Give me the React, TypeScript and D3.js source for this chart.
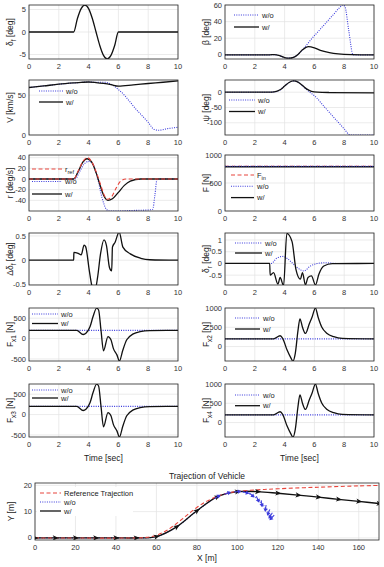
import { useRef, useEffect } from "react";
import * as d3 from "d3";

const FONT = "'Liberation Sans', Arial, Helvetica, sans-serif";

// shared time axis
const timeTicks = [0, 2, 4, 6, 8, 10];

// steering input
const steerT = [0, 3, 3.25, 3.5, 3.75, 4, 4.25, 4.5, 4.75, 5, 5.25, 5.5, 5.75, 6, 10];
const steerDeg = [0, 0, 3, 5.2, 6, 5.2, 3, 0, -3, -5.2, -6, -5.2, -3, 0, 0];

// side slip
const betaT = [0, 3, 3.3, 3.7, 4.0, 4.3, 4.6, 4.9, 5.2, 5.6, 6.0, 6.4, 7.0, 7.6, 8.5, 10];
const betaW = [0, 0, 0.3, -1.2, -3.2, -4, -3, 0.5, 6, 10, 8.5, 5.5, 2.8, 1.2, 0.3, 0];
const betaWoT = [0, 3, 3.3, 3.7, 4.0, 4.3, 4.6, 4.9, 5.3, 5.8, 6.3, 6.8, 7.3, 7.7, 7.9, 8.05, 8.3, 8.6, 10];
const betaWo = [0, 0, 0.3, -1.2, -3.2, -4, -3, 0.5, 8, 19, 29, 39, 49, 57, 60, 58, 30, 0, 0];

// speed
const speedT = [0, 1, 2, 3, 3.5, 4, 4.5, 5, 5.5, 6, 7, 8, 9, 10];
const speedW = [59.6, 61.6, 63.7, 65.3, 66, 66.5, 65.8, 64.7, 63.2, 61.3, 62.9, 64.6, 66.2, 67.9];
const speedWoT = [0, 1, 2, 3, 3.5, 4, 4.5, 5, 5.5, 6, 6.4, 6.8, 7.2, 7.6, 8.0, 8.4, 8.7, 9.3, 10];
const speedWo = [59.6, 61.6, 63.7, 65.3, 66, 66.5, 66, 66.2, 63.8, 57, 50, 41, 32, 24, 16, 7, 6, 8, 9.6];

// yaw angle
const psiT = [0, 3, 3.3, 3.7, 4.0, 4.3, 4.6, 4.9, 5.2, 5.5, 5.8, 6.2, 7, 10];
const psiW = [0, 0, 1, 8, 20, 32, 37, 33, 22, 10, 3, 0, -1, -2];
const psiWoT = [0, 3, 3.3, 3.7, 4.0, 4.3, 4.6, 4.9, 5.2, 5.5, 5.8, 6.1, 6.5, 7.0, 7.5, 8.0, 8.4, 10];
const psiWo = [0, 0, 1, 8, 20, 32, 37, 33, 21, 8, -4, -16, -38, -66, -93, -120, -140, -140];

// yaw rate
const rRefT = [0, 3, 3.3, 3.6, 3.9, 4.2, 4.5, 4.8, 5.0, 5.25, 5.55, 5.85, 6.15, 6.5, 10];
const rRef = [0, 0, 15, 32, 40, 33, 14, -10, -27, -38, -33, -17, -4, 0, 0];
const rWT = [0, 3, 3.3, 3.6, 3.9, 4.2, 4.5, 4.8, 5.0, 5.3, 5.6, 6.0, 6.4, 6.8, 7.5, 10];
const rW = [0, 0, 14, 31, 38, 32, 12, -14, -30, -40, -37, -25, -12, -4, 0, 0];
const rWoT = [0, 3.1, 3.4, 3.7, 4.0, 4.3, 4.6, 4.9, 5.2, 5.4, 6.0, 7.0, 8.0, 8.3, 8.45, 8.6, 10];
const rWo = [0, 0, 14, 28, 33, 27, 2, -35, -57, -60, -60, -59, -58, -57, -30, 0, 0];

// drive force
const forceT = [0, 10];
const forceIn = [800, 800];
const forceWo = [800, 800];
const forceW = [790, 790];

// front steering correction
const dDeltaT = [0, 3.0, 3.01, 3.3, 3.5, 3.7, 3.8, 4.05, 4.2, 4.4, 4.6, 4.8, 5.03, 5.2, 5.4, 5.55, 5.6, 5.78, 6.05, 6.3, 6.8, 7.5, 8.1, 10];
const dDeltaW = [0, 0, 0.16, 0.14, 0.11, 0.31, 0.28, -0.22, -0.5, -0.65, -0.36, 0.13, 0.42, 0.3, -0.15, -0.22, 0.27, 0.37, 0.58, 0.27, 0.13, 0.04, 0.01, 0];

// rear steering
const deltaRT = [0, 3.0, 3.03, 3.26, 3.55, 3.7, 3.93, 4.15, 4.5, 4.76, 5.06, 5.2, 5.4, 5.57, 5.8, 6.07, 6.3, 6.63, 7.2, 10];
const deltaRW = [0, 0, -0.5, -0.39, -0.88, -0.6, -0.95, 1.28, 0.93, -0.25, -0.67, -0.39, -0.92, -0.6, -0.53, -0.92, -0.46, -0.11, -0.01, 0];
const deltaRWoT = [0, 3.1, 3.5, 3.9, 4.2, 4.5, 4.85, 5.3, 5.7, 6.2, 6.7, 7.5, 10];
const deltaRWo = [0, 0, 0.24, 0.3, 0.2, 0.03, -0.18, -0.32, -0.12, 0, 0.03, 0, 0];

// wheel longitudinal forces
const fx13T = [0, 3.2, 3.64, 3.82, 4.1, 4.3, 4.54, 4.67, 4.83, 5.0, 5.3, 5.5, 5.66, 5.9, 6.07, 6.3, 6.56, 7.0, 7.46, 8.1, 10];
const fx13W = [200, 200, 100, 130, 295, 540, 745, 700, 213, -300, 50, -30, -240, -400, -550, -280, -30, 115, 170, 195, 200];
const fx24T = [0, 3.26, 3.7, 3.87, 4.16, 4.43, 4.56, 4.72, 4.9, 5.03, 5.2, 5.4, 5.66, 5.84, 6.07, 6.25, 6.5, 6.85, 7.3, 7.87, 10];
const fx24W = [200, 200, 280, 212, -85, -300, -380, -170, 420, 720, 500, 340, 590, 760, 1000, 760, 500, 340, 255, 212, 200];
const fxWoT = [0, 10];
const fxWo = [200, 200];

// trajectories
const trajTicksX = [0, 20, 40, 60, 80, 100, 120, 140, 160];
const trajTicksY = [0, 10, 20];
const refX = [0, 50, 55, 60, 65, 70, 75, 80, 85, 90, 95, 100, 110, 120, 140, 160, 171];
const refY = [0, 0, 0.2, 1, 2.8, 5.5, 8.6, 11.6, 14, 15.8, 17, 17.7, 18.3, 18.7, 19.3, 19.8, 20];
const pathWX = [0, 10, 20, 30, 40, 50, 60, 70, 80, 90, 100, 110, 120, 130, 140, 150, 160, 170];
const pathWY = [0, 0, 0, 0, 0, 0, 0.5, 4.2, 10.3, 15.6, 17.6, 17.6, 17, 16.3, 15.5, 14.7, 13.9, 13.1];
const pathWoX = [0, 10, 20, 30, 40, 50, 60, 70, 80, 90, 95, 100, 104, 107, 110, 112, 114, 115.5, 116.5, 117.2];
const pathWoY = [0, 0, 0, 0, 0, 0, 0.5, 4.2, 10.3, 15.6, 17, 17.6, 17.3, 16.4, 14.8, 13.2, 11.4, 9.8, 8.6, 7.8];
const headingWo = [0, 0, 0, 0, 0, 0, 8, 30, 35, 25, 15, 5, -12, -35, -60, -80, -100, -118, -130, -140];

type Part = { s: string; sub?: boolean };
type Kind = "ref" | "wo" | "w";
type Series = { t: number[]; v: number[]; kind: Kind };
type Legend = { x: number; y: number; len: number; gap: number; items: { kind: Kind; label: Part[] }[] };
type Panel = {
  col: number;
  row: number;
  yDomain: [number, number];
  yTicks: number[];
  label: Part[];
  series: Series[];
  legend?: Legend;
};

const STYLE: Record<Kind, { stroke: string; dash: string | null; width: number }> = {
  ref: { stroke: "#e8453c", dash: "4,2.5", width: 1.1 },
  wo: { stroke: "#3b3bdc", dash: "1,1.3", width: 1.1 },
  w: { stroke: "#111", dash: null, width: 1.3 },
};

const COLS = [
  [29, 178],
  [225, 374],
];
const ROWS = [
  [5, 59],
  [80, 135],
  [155, 211],
  [233, 285],
  [308, 361],
  [384, 437],
];

const WO: Part[] = [{ s: "w/o" }];
const W: Part[] = [{ s: "w/" }];

function addParts(sel: d3.Selection<SVGTextElement, unknown, null, undefined>, parts: Part[], size: number) {
  let shifted = false;
  parts.forEach((pt) => {
    const ts = sel.append("tspan").text(pt.s);
    if (pt.sub) {
      ts.attr("dy", shifted ? 0 : size * 0.3).attr("font-size", size * 0.75);
      shifted = true;
    } else if (shifted) {
      ts.attr("dy", -size * 0.3);
      shifted = false;
    }
  });
}

export default function App() {
  const ref = useRef<SVGSVGElement>(null);

  useEffect(() => {
    if (!ref.current) return;
    const svg = d3.select(ref.current);
    svg.selectAll("*").remove();

    const panels: Panel[] = [
      {
        col: 0, row: 0, yDomain: [-6, 6], yTicks: [-5, 0, 5],
        label: [{ s: "δ" }, { s: "f", sub: true }, { s: " [deg]" }],
        series: [{ t: steerT, v: steerDeg, kind: "w" }],
      },
      {
        col: 1, row: 0, yDomain: [-5, 60], yTicks: [0, 20, 40, 60],
        label: [{ s: "β [deg]" }],
        series: [
          { t: betaWoT, v: betaWo, kind: "wo" },
          { t: betaT, v: betaW, kind: "w" },
        ],
        legend: { x: 234, y: 15, len: 25, gap: 12, items: [{ kind: "wo", label: WO }, { kind: "w", label: W }] },
      },
      {
        col: 0, row: 1, yDomain: [0, 69], yTicks: [0, 50],
        label: [{ s: "V [km/s]" }],
        series: [
          { t: speedWoT, v: speedWo, kind: "wo" },
          { t: speedT, v: speedW, kind: "w" },
        ],
        legend: { x: 39, y: 91, len: 24, gap: 11, items: [{ kind: "wo", label: WO }, { kind: "w", label: W }] },
      },
      {
        col: 1, row: 1, yDomain: [-140, 40], yTicks: [-100, -50, 0],
        label: [{ s: "ψ [deg]" }],
        series: [
          { t: psiWoT, v: psiWo, kind: "wo" },
          { t: psiT, v: psiW, kind: "w" },
        ],
        legend: { x: 229, y: 100, len: 26, gap: 11.5, items: [{ kind: "wo", label: WO }, { kind: "w", label: W }] },
      },
      {
        col: 0, row: 2, yDomain: [-60, 45], yTicks: [-40, -20, 0, 20, 40],
        label: [{ s: "r [deg/s]" }],
        series: [
          { t: rWoT, v: rWo, kind: "wo" },
          { t: rWT, v: rW, kind: "w" },
          { t: rRefT, v: rRef, kind: "ref" },
        ],
        legend: {
          x: 32, y: 169, len: 30, gap: 12.5,
          items: [
            { kind: "ref", label: [{ s: "r" }, { s: "ref", sub: true }] },
            { kind: "wo", label: WO },
            { kind: "w", label: W },
          ],
        },
      },
      {
        col: 1, row: 2, yDomain: [0, 1000], yTicks: [0, 500, 1000],
        label: [{ s: "F [N]" }],
        series: [
          { t: forceT, v: forceIn, kind: "ref" },
          { t: forceT, v: forceW, kind: "w" },
          { t: forceT, v: forceWo, kind: "wo" },
        ],
        legend: {
          x: 231, y: 175, len: 23, gap: 11.3,
          items: [
            { kind: "ref", label: [{ s: "F" }, { s: "in", sub: true }] },
            { kind: "wo", label: WO },
            { kind: "w", label: W },
          ],
        },
      },
      {
        col: 0, row: 3, yDomain: [-0.51, 0.56], yTicks: [-0.5, 0, 0.5],
        label: [{ s: "Δδ" }, { s: "f", sub: true }, { s: " [deg]" }],
        series: [{ t: dDeltaT, v: dDeltaW, kind: "w" }],
      },
      {
        col: 1, row: 3, yDomain: [-0.92, 1.3], yTicks: [-0.5, 0, 0.5, 1],
        label: [{ s: "δ" }, { s: "r", sub: true }, { s: " [deg]" }],
        series: [
          { t: deltaRWoT, v: deltaRWo, kind: "wo" },
          { t: deltaRT, v: deltaRW, kind: "w" },
        ],
        legend: { x: 235, y: 243, len: 27, gap: 10, items: [{ kind: "wo", label: WO }, { kind: "w", label: W }] },
      },
      {
        col: 0, row: 4, yDomain: [-550, 750], yTicks: [-500, 0, 500],
        label: [{ s: "F" }, { s: "x1", sub: true }, { s: " [N]" }],
        series: [
          { t: fxWoT, v: fxWo, kind: "wo" },
          { t: fx13T, v: fx13W, kind: "w" },
        ],
        legend: { x: 32, y: 314, len: 26, gap: 9.5, items: [{ kind: "wo", label: WO }, { kind: "w", label: W }] },
      },
      {
        col: 1, row: 4, yDomain: [-375, 1000], yTicks: [0, 500, 1000],
        label: [{ s: "F" }, { s: "x2", sub: true }, { s: " [N]" }],
        series: [
          { t: fxWoT, v: fxWo, kind: "wo" },
          { t: fx24T, v: fx24W, kind: "w" },
        ],
        legend: { x: 235, y: 318, len: 25, gap: 11, items: [{ kind: "wo", label: WO }, { kind: "w", label: W }] },
      },
      {
        col: 0, row: 5, yDomain: [-550, 750], yTicks: [-500, 0, 500],
        label: [{ s: "F" }, { s: "x3", sub: true }, { s: " [N]" }],
        series: [
          { t: fxWoT, v: fxWo, kind: "wo" },
          { t: fx13T, v: fx13W, kind: "w" },
        ],
        legend: { x: 32, y: 390, len: 26, gap: 8, items: [{ kind: "wo", label: WO }, { kind: "w", label: W }] },
      },
      {
        col: 1, row: 5, yDomain: [-375, 1000], yTicks: [0, 500, 1000],
        label: [{ s: "F" }, { s: "x4", sub: true }, { s: " [N]" }],
        series: [
          { t: fxWoT, v: fxWo, kind: "wo" },
          { t: fx24T, v: fx24W, kind: "w" },
        ],
        legend: { x: 235, y: 395, len: 25, gap: 10.7, items: [{ kind: "wo", label: WO }, { kind: "w", label: W }] },
      },
    ];

    const defs = svg.append("defs");

    panels.forEach((p, idx) => {
      const [x0, x1] = COLS[p.col];
      const [y0, y1] = ROWS[p.row];
      const x = d3.scaleLinear().domain([0, 10]).range([x0, x1]);
      const y = d3.scaleLinear().domain(p.yDomain).range([y1, y0]);
      const g = svg.append("g");

      // grid
      g.selectAll("line.gx")
        .data(timeTicks)
        .enter()
        .append("line")
        .attr("x1", (d) => x(d))
        .attr("x2", (d) => x(d))
        .attr("y1", y0)
        .attr("y2", y1)
        .attr("stroke", "#e3e3e3")
        .attr("stroke-width", 0.7);
      g.selectAll("line.gy")
        .data(p.yTicks)
        .enter()
        .append("line")
        .attr("x1", x0)
        .attr("x2", x1)
        .attr("y1", (d) => y(d))
        .attr("y2", (d) => y(d))
        .attr("stroke", "#e3e3e3")
        .attr("stroke-width", 0.7);

      const clipId = `clip-${idx}`;
      defs.append("clipPath").attr("id", clipId).append("rect")
        .attr("x", x0).attr("y", y0).attr("width", x1 - x0).attr("height", y1 - y0);

      const lineGen = d3
        .line<[number, number]>()
        .x((d) => x(d[0]))
        .y((d) => y(d[1]))
        .curve(d3.curveMonotoneX);

      const lg = g.append("g").attr("clip-path", `url(#${clipId})`);
      p.series.forEach((s) => {
        const st = STYLE[s.kind];
        lg.append("path")
          .datum(d3.zip(s.t, s.v) as [number, number][])
          .attr("d", lineGen)
          .attr("fill", "none")
          .attr("stroke", st.stroke)
          .attr("stroke-width", st.width)
          .attr("stroke-dasharray", st.dash);
      });

      // box
      g.append("rect")
        .attr("x", x0).attr("y", y0).attr("width", x1 - x0).attr("height", y1 - y0)
        .attr("fill", "none").attr("stroke", "#262626").attr("stroke-width", 0.8);

      // tick labels
      g.selectAll("text.tx")
        .data(timeTicks)
        .enter()
        .append("text")
        .attr("x", (d) => x(d))
        .attr("y", y1 + 10)
        .attr("text-anchor", "middle")
        .attr("font-size", 7.5)
        .attr("font-family", FONT)
        .attr("fill", "#333")
        .text((d) => String(d));
      g.selectAll("text.ty")
        .data(p.yTicks)
        .enter()
        .append("text")
        .attr("x", x0 - 3)
        .attr("y", (d) => y(d) + 2.6)
        .attr("text-anchor", "end")
        .attr("font-size", 7.5)
        .attr("font-family", FONT)
        .attr("fill", "#333")
        .text((d) => String(d));

      // y label
      const yl = g.append("text")
        .attr("transform", `translate(${p.col === 0 ? 13 : 209},${(y0 + y1) / 2}) rotate(-90)`)
        .attr("text-anchor", "middle")
        .attr("font-size", 8.5)
        .attr("font-family", FONT)
        .attr("fill", "#222");
      addParts(yl, p.label, 8.5);

      if (p.legend) {
        const L = p.legend;
        L.items.forEach((it, i) => {
          const st = STYLE[it.kind];
          const ly = L.y + i * L.gap;
          g.append("line")
            .attr("x1", L.x).attr("x2", L.x + L.len)
            .attr("y1", ly).attr("y2", ly)
            .attr("stroke", st.stroke)
            .attr("stroke-width", st.width)
            .attr("stroke-dasharray", st.dash);
          const t = g.append("text")
            .attr("x", L.x + L.len + 3)
            .attr("y", ly + 2.5)
            .attr("font-size", 7.5)
            .attr("font-family", FONT)
            .attr("fill", "#222");
          addParts(t, it.label, 7.5);
        });
      }

      if (p.row === 5) {
        g.append("text")
          .attr("x", (x0 + x1) / 2)
          .attr("y", 461)
          .attr("text-anchor", "middle")
          .attr("font-size", 8.5)
          .attr("font-family", FONT)
          .attr("fill", "#222")
          .text("Time [sec]");
      }
    });

    // ---- trajectory panel ----
    const bx0 = 35, bx1 = 379, by0 = 483, by1 = 540;
    const tx = d3.scaleLinear().domain([0, 170]).range([bx0, bx1]);
    const ty = d3.scaleLinear().domain([-0.8, 20.9]).range([by1, by0]);
    const tg = svg.append("g");

    tg.selectAll("line.gx").data(trajTicksX).enter().append("line")
      .attr("x1", (d) => tx(d)).attr("x2", (d) => tx(d)).attr("y1", by0).attr("y2", by1)
      .attr("stroke", "#e3e3e3").attr("stroke-width", 0.7);
    tg.selectAll("line.gy").data(trajTicksY).enter().append("line")
      .attr("x1", bx0).attr("x2", bx1).attr("y1", (d) => ty(d)).attr("y2", (d) => ty(d))
      .attr("stroke", "#e3e3e3").attr("stroke-width", 0.7);

    defs.append("clipPath").attr("id", "clip-traj").append("rect")
      .attr("x", bx0).attr("y", by0).attr("width", bx1 - bx0).attr("height", by1 - by0);
    const tl = tg.append("g").attr("clip-path", "url(#clip-traj)");

    const pathGen = d3
      .line<[number, number]>()
      .x((d) => tx(d[0]))
      .y((d) => ty(d[1]))
      .curve(d3.curveCatmullRom);

    const drawPath = (xs: number[], ys: number[], kind: Kind) => {
      const st = STYLE[kind];
      tl.append("path")
        .datum(d3.zip(xs, ys) as [number, number][])
        .attr("d", pathGen)
        .attr("fill", "none")
        .attr("stroke", st.stroke)
        .attr("stroke-width", st.width)
        .attr("stroke-dasharray", st.dash);
    };

    drawPath(pathWoX, pathWoY, "wo");
    drawPath(pathWX, pathWY, "w");
    drawPath(refX, refY, "ref");

    // heading arrows along the controlled path
    pathWX.forEach((px, i) => {
      const a = pathWX[Math.max(0, i - 1)], b = pathWX[Math.min(pathWX.length - 1, i + 1)];
      const ya = pathWY[Math.max(0, i - 1)], yb = pathWY[Math.min(pathWY.length - 1, i + 1)];
      const ang = (Math.atan2(ty(yb) - ty(ya), tx(b) - tx(a)) * 180) / Math.PI;
      tl.append("path")
        .attr("d", "M3.5,0 L-2.5,-2.6 L-1,0 L-2.5,2.6 Z")
        .attr("transform", `translate(${tx(px)},${ty(pathWY[i])}) rotate(${ang})`)
        .attr("fill", "#111");
    });

    // heading arrows for the uncontrolled vehicle
    pathWoX.forEach((px, i) => {
      if (px < 90) return;
      const h = (headingWo[i] * Math.PI) / 180;
      const ang = (Math.atan2(-Math.sin(h) * 2.6, Math.cos(h) * 2.0) * 180) / Math.PI;
      const m = tl.append("g")
        .attr("transform", `translate(${tx(px)},${ty(pathWoY[i])}) rotate(${ang})`);
      m.append("line").attr("x1", -3).attr("x2", 3).attr("y1", 0).attr("y2", 0)
        .attr("stroke", "#3b3bdc").attr("stroke-width", 1);
      m.append("path").attr("d", "M4,0 L0.5,-2.2 L0.5,2.2 Z").attr("fill", "#3b3bdc");
    });

    tg.append("rect")
      .attr("x", bx0).attr("y", by0).attr("width", bx1 - bx0).attr("height", by1 - by0)
      .attr("fill", "none").attr("stroke", "#262626").attr("stroke-width", 0.8);

    tg.selectAll("text.tx").data(trajTicksX).enter().append("text")
      .attr("x", (d) => tx(d)).attr("y", by1 + 10)
      .attr("text-anchor", "middle").attr("font-size", 7.5).attr("font-family", FONT).attr("fill", "#333")
      .text((d) => String(d));
    tg.selectAll("text.ty").data(trajTicksY).enter().append("text")
      .attr("x", bx0 - 3).attr("y", (d) => ty(d) + 2.6)
      .attr("text-anchor", "end").attr("font-size", 7.5).attr("font-family", FONT).attr("fill", "#333")
      .text((d) => String(d));

    tg.append("text")
      .attr("x", (bx0 + bx1) / 2).attr("y", 561)
      .attr("text-anchor", "middle").attr("font-size", 8.5).attr("font-family", FONT).attr("fill", "#222")
      .text("X [m]");
    tg.append("text")
      .attr("transform", `translate(14,${(by0 + by1) / 2}) rotate(-90)`)
      .attr("text-anchor", "middle").attr("font-size", 8.5).attr("font-family", FONT).attr("fill", "#222")
      .text("Y [m]");
    tg.append("text")
      .attr("x", (bx0 + bx1) / 2).attr("y", 479)
      .attr("text-anchor", "middle").attr("font-size", 8.5).attr("font-family", FONT).attr("fill", "#222")
      .text("Trajection of Vehicle");

    // legend
    const legItems: { kind: Kind; label: string }[] = [
      { kind: "ref", label: "Reference Trajection" },
      { kind: "wo", label: "w/o" },
      { kind: "w", label: "w/" },
    ];
    tg.append("rect").attr("x", 37).attr("y", 487).attr("width", 96).attr("height", 29).attr("fill", "#fff");
    legItems.forEach((it, i) => {
      const st = STYLE[it.kind];
      const ly = 493 + i * 9;
      tg.append("line").attr("x1", 40).attr("x2", 61).attr("y1", ly).attr("y2", ly)
        .attr("stroke", st.stroke).attr("stroke-width", st.width).attr("stroke-dasharray", st.dash);
      tg.append("text").attr("x", 64).attr("y", ly + 2.5)
        .attr("font-size", 7.5).attr("font-family", FONT).attr("fill", "#222")
        .text(it.label);
    });
  }, []);

  return (
    <svg
      ref={ref}
      width={384}
      height={567}
      style={{ position: "absolute", left: 0, top: 0, background: "#fff" }}
    />
  );
}
